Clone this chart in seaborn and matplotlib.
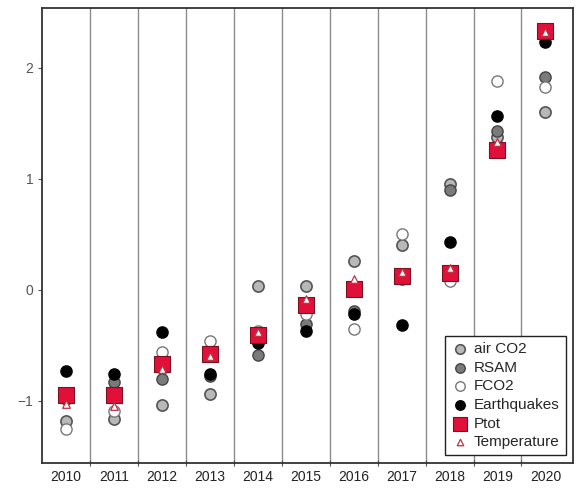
import numpy as np
import pandas as pd
import matplotlib
matplotlib.use('Agg')
import matplotlib.pyplot as plt
import seaborn as sns

years = [2010, 2011, 2012, 2013, 2014, 2015, 2016, 2017, 2018, 2019, 2020]

air_co2 = [-1.18, -1.16, -1.04, -0.94, 0.03, 0.03, 0.26, 0.40, 0.95, 1.38, 1.60]
rsam = [-0.98, -0.83, -0.80, -0.78, -0.59, -0.31, -0.19, 0.10, 0.90, 1.43, 1.92]
fco2 = [-1.25, -1.09, -0.56, -0.46, -0.37, -0.22, -0.35, 0.50, 0.08, 1.88, 1.83]
earthquakes = [-0.73, -0.76, -0.38, -0.76, -0.48, -0.37, -0.22, -0.32, 0.43, 1.57, 2.23]
ptot = [-0.95, -0.95, -0.67, -0.58, -0.41, -0.14, 0.01, 0.12, 0.15, 1.26, 2.33]
temperature = [-1.03, -1.05, -0.71, -0.60, -0.38, -0.08, 0.10, 0.16, 0.20, 1.33, 2.32]

sns.set_style('ticks')
plt.rcParams['font.family'] = ['Liberation Sans', 'DejaVu Sans']

fig = plt.figure(figsize=(5.79, 4.92), dpi=100)
ax = fig.add_axes([0.073, 0.059, 0.917, 0.925])

# Lignes verticales entre les années
for b in np.arange(2010.5, 2020, 1):
    ax.axvline(b, color='#8a8a8a', lw=1, zorder=0)

series = [
    ('air CO2', air_co2, dict(marker='o', s=65, color='#b8b8b8', edgecolor='#555555', linewidth=1.2)),
    ('RSAM', rsam, dict(marker='o', s=65, color='#7a7a7a', edgecolor='#444444', linewidth=1.0)),
    ('FCO2', fco2, dict(marker='o', s=65, color='white', edgecolor='#777777', linewidth=1.0)),
    ('Earthquakes', earthquakes, dict(marker='o', s=65, color='black', edgecolor='black', linewidth=1.0)),
    ('Ptot', ptot, dict(marker='s', s=130, color='#e0103a', edgecolor='#7a1020', linewidth=0.8)),
    ('Temperature', temperature, dict(marker='^', s=30, color='white', edgecolor='#c03040', linewidth=0.9)),
]

for i, (name, vals, kw) in enumerate(series):
    df = pd.DataFrame({'year': years, 'value': vals})
    sns.scatterplot(data=df, x='year', y='value', ax=ax, label=name, zorder=3 + i, **kw)

ax.set_xlim(2009.5, 2020.58)
ax.set_ylim(-1.56, 2.54)

ax.set_xticks(np.arange(2010.5, 2020, 1))
ax.set_xticklabels([])
ax.set_xticks(years, minor=True)
ax.set_xticklabels([str(y) for y in years], minor=True, fontsize=10)
ax.tick_params(axis='x', which='major', direction='inout', length=5, color='#555555')
ax.tick_params(axis='x', which='minor', length=0, pad=5, labelcolor='#222222')

ax.set_yticks([-1, 0, 1, 2])
ax.set_yticklabels(['\u22121', '0', '1', '2'], fontsize=10)
ax.tick_params(axis='y', direction='out', length=3, color='#555555', labelcolor='#555555')

ax.set_xlabel('')
ax.set_ylabel('')
for sp in ax.spines.values():
    sp.set_color('#333333')
    sp.set_linewidth(1.3)

leg = ax.legend(loc='lower right', fontsize=11, frameon=True, fancybox=False,
                edgecolor='#222222', framealpha=1, handletextpad=0.3,
                labelspacing=0.3, borderpad=0.4, handlelength=1.2,
                borderaxespad=0.5, markerscale=0.85)
leg.get_frame().set_linewidth(1.0)

fig.savefig('out.png', dpi=100)
